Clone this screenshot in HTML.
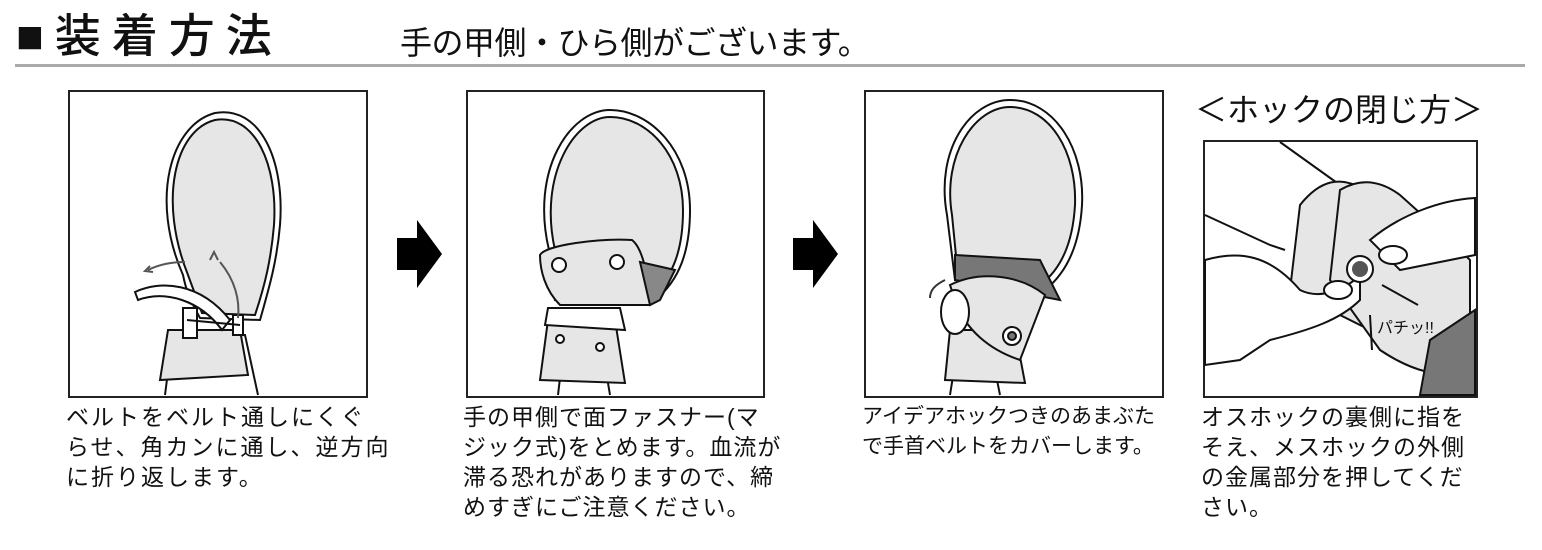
<!DOCTYPE html>
<html><head><meta charset="utf-8"><style>
body{margin:0;width:1542px;height:550px;background:#fff;position:relative;overflow:hidden;font-family:"Liberation Sans","Noto Sans CJK JP",sans-serif;color:#111}
.t{position:absolute;left:16px;top:8px;font-size:46px;letter-spacing:11px;line-height:56px;white-space:nowrap;font-weight:500}
.s{position:absolute;left:400px;top:22px;font-size:32px;line-height:42px;white-space:nowrap;letter-spacing:-0.5px}
.line{position:absolute;left:15px;top:64px;width:1510px;height:3px;background:#aaa}
.box{position:absolute;border:2px solid #222;box-sizing:border-box;background:#fff}
.cap{position:absolute;font-size:23px;letter-spacing:1px;line-height:30px;white-space:nowrap}
.h4{position:absolute;left:1195px;top:88px;font-size:32px;line-height:44px;white-space:nowrap}
svg{position:absolute;left:0;top:0}
</style></head><body>
<div class="t">■装着方法</div>
<div class="s">手の甲側・ひら側がございます。</div>
<div class="line"></div>

<div class="box" style="left:68px;top:90px;width:300px;height:308px"></div>
<div class="box" style="left:466px;top:90px;width:299px;height:308px"></div>
<div class="box" style="left:864px;top:90px;width:300px;height:308px"></div>
<div class="h4">＜ホックの閉じ方＞</div>
<div class="box" style="left:1203px;top:140px;width:275px;height:258px"></div>

<svg width="1542" height="550" viewBox="0 0 1542 550">
<g stroke="#111" stroke-width="2" fill="#e6e6e6">
<path d="M165 395 L172 340 L245 335 L258 395" fill="none"/>
<path d="M160 380 L168 330 L240 330 L248 375 Z"/>
<path d="M183 275 C150 200 170 125 215 113 C260 105 285 160 280 225 C277 260 270 285 260 320 L200 318 C190 300 186 290 183 275 Z" fill="#fff"/>
<path d="M188 275 C158 200 175 130 215 120 C255 113 278 165 274 225 C271 260 265 285 255 315 L202 313 Z"/>
<path d="M135 292 C160 280 200 282 230 320 L222 330 C200 300 165 290 138 300 Z" fill="#fff"/>
<rect x="183" y="308" width="14" height="30" fill="#fff"/>
<rect x="233" y="315" width="10" height="20" fill="#fff"/>
<path d="M187 320 L240 325" fill="none"/>
</g>
<g stroke="#555" stroke-width="2" fill="none">
<path d="M185 262 C170 262 158 265 148 270"/><path d="M220 262 C235 280 240 300 238 318"/>
<path d="M210 260 l4 -8 l4 8" /><path d="M150 266 l-5 5 l8 1"/>
</g>
<path d="M397 238 h20 v-18 l25 34 l-25 34 v-18 h-20 Z" fill="#000"/>
<path d="M793 238 h20 v-18 l25 34 l-25 34 v-18 h-20 Z" fill="#000"/>
<g stroke="#111" stroke-width="2" fill="#e6e6e6">
<path d="M558 395 L565 335 L600 335 L610 395" fill="none"/>
<path d="M540 380 L548 320 L615 320 L625 383 Z"/>
<path d="M549 250 C530 170 570 110 610 110 C650 110 690 150 690 210 C690 250 680 280 655 300 L555 300 Z" fill="#fff"/>
<path d="M555 250 C538 175 575 117 610 117 C648 117 683 155 683 210 C683 250 673 278 650 296 L560 296 Z"/>
<path d="M540 255 C545 245 600 238 632 240 C645 250 650 290 650 305 L560 305 C545 290 540 270 540 255 Z"/>
<path d="M640 262 L675 270 L660 300 L650 305 Z" fill="#888"/>
<path d="M548 308 L620 308 L625 330 L545 325 Z" fill="#fff"/>
<circle cx="559" cy="265" r="7" fill="#fff"/><circle cx="617" cy="262" r="7" fill="#fff"/>
<circle cx="560" cy="339" r="4" fill="#fff"/><circle cx="600" cy="347" r="4" fill="#fff"/>
</g>
<g stroke="#111" stroke-width="2" fill="#e6e6e6">
<path d="M950 395 L958 345 L990 345 L1000 395" fill="none"/>
<path d="M945 380 L950 330 L1015 330 L1025 383 Z"/>
<path d="M947 215 C935 150 970 100 1010 100 C1055 100 1085 150 1082 205 C1080 240 1070 270 1045 290 L955 280 Z" fill="#fff"/>
<path d="M952 215 C942 155 975 107 1010 107 C1050 107 1077 152 1075 205 C1073 240 1063 268 1040 285 L958 276 Z"/>
<path d="M955 255 L1040 260 L1060 300 L955 280 Z" fill="#777"/>
<path d="M950 285 C980 270 1020 275 1045 295 L1020 360 C990 350 965 330 955 300 Z"/>
<ellipse cx="955" cy="312" rx="14" ry="22" fill="#fff"/>
<circle cx="1012" cy="336" r="9" fill="#fff"/><circle cx="1012" cy="336" r="4" fill="#777"/>
</g>
<path d="M945 280 C935 285 930 290 930 298" stroke="#333" stroke-width="2" fill="none"/>
<g stroke="#111" stroke-width="2" fill="#fff">
<path d="M1280 142 L1340 185"/>
<path d="M1205 215 L1270 245 L1285 250"/>
<path d="M1300 205 C1320 180 1340 175 1365 190 L1400 210 L1420 225 L1370 330 L1290 290 Z" fill="#e6e6e6"/>
<path d="M1340 190 C1360 178 1380 180 1400 195 L1450 240 L1470 260 L1470 370 C1440 380 1410 370 1380 350 L1330 280 Z" fill="#e6e6e6"/>
<path d="M1430 340 L1475 310 L1475 395 L1420 395 Z" fill="#777"/>
<path d="M1205 260 C1240 250 1270 255 1300 290 C1320 300 1345 290 1360 275 L1360 300 C1340 320 1310 330 1270 340 L1240 360 L1205 365 Z"/>
<path d="M1370 240 C1400 215 1440 200 1475 198 L1475 255 L1400 270 Z"/>
<ellipse cx="1338" cy="290" rx="14" ry="9"/>
<ellipse cx="1393" cy="255" rx="14" ry="9"/>
<circle cx="1360" cy="269" r="13"/>
</g>
<circle cx="1360" cy="269" r="8" fill="#555"/>
<path d="M1382 285 L1418 305 M1370 315 L1372 350" stroke="#111" stroke-width="2"/>
<text x="1377" y="333" font-size="16" font-family="Liberation Sans, Noto Sans CJK JP, sans-serif" fill="#111">パチッ!!</text>
</svg>

<div class="cap" style="left:66px;top:402px;letter-spacing:2px">ベルトをベルト通しにくぐ<br>らせ、角カンに通し、逆方向<br>に折り返します。</div>
<div class="cap" style="left:463px;top:402px">手の甲側で面ファスナー(マ<br>ジック式)をとめます。血流が<br>滞る恐れがありますので、締<br>めすぎにご注意ください。</div>
<div class="cap" style="left:862px;top:402px;font-size:21px;letter-spacing:0">アイデアホックつきのあまぶた<br>で手首ベルトをカバーします。</div>
<div class="cap" style="left:1201px;top:402px">オスホックの裏側に指を<br>そえ、メスホックの外側<br>の金属部分を押してくだ<br>さい。</div>
</body></html>
